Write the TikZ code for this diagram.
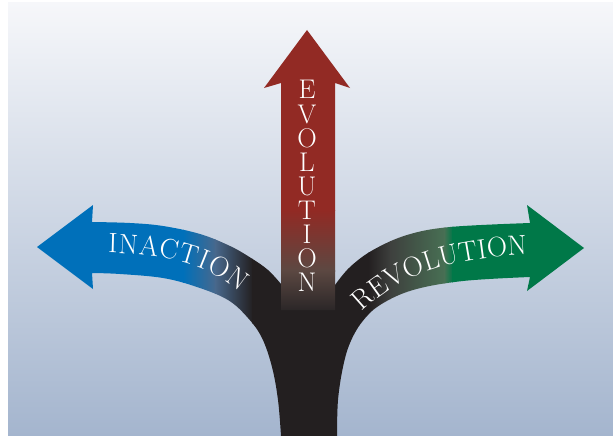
\documentclass[tikz,border=0pt]{standalone}
\usetikzlibrary{decorations.text}

\definecolor{bgtop}{RGB}{246,247,250}
\definecolor{bgbot}{RGB}{164,181,206}
\definecolor{inblue}{RGB}{0,112,186}
\definecolor{inmid}{RGB}{72,104,140}
\definecolor{revgreen}{RGB}{0,120,72}
\definecolor{revgray}{RGB}{62,64,62}
\definecolor{revmid}{RGB}{72,112,84}
\definecolor{evred}{RGB}{146,42,36}
\definecolor{evmid}{RGB}{92,72,66}
\definecolor{evend}{RGB}{42,38,39}
\definecolor{trunk}{RGB}{35,31,32}

\newcommand\arrowfont{\fontsize{28}{28}\selectfont}
\newcommand\leftbranch{(281,436) -- plot[smooth,tension=.6] coordinates {(281,436) (278,400) (272,367) (262,338) (248,318) (228,300) (197,287) (163,278) (120,274) (92,273)}
  -- (93,289) -- (37,247) -- (93,205) -- (92,222)
  -- plot[smooth,tension=.6] coordinates {(92,222) (130,223) (163,226) (200,234) (230,246) (251,258) (268,270) (281,284)}
  -- (281,310) -- (308,310) -- (308,436) -- cycle}
\newcommand\rightbranch{(337,436) -- plot[smooth,tension=.6] coordinates {(337,436) (338,400) (343,367) (350,343) (362,322) (380,305) (413,290) (463,281) (530,277)}
  -- (527,291) -- (584,248) -- (527,205) -- (530,223)
  -- plot[smooth,tension=.6] coordinates {(530,223) (450,227) (407,235) (373,250) (350,267) (335,285)}
  -- (335,310) -- (306,310) -- (306,436) -- cycle}

\begin{document}
\begin{tikzpicture}[x=1pt,y=-1pt,
    evletter/.style={anchor=base,inner sep=0pt,text=white,font=\fontsize{27}{27}\selectfont},
    bendtext/.style={decorate,decoration={text along path,text={|\arrowfont|#1},text align={fit to path},text color=white}}]
          \useasboundingbox (0,0) rectangle (613,436);
          \fill[white] (0,0) rectangle (613,436);
          \shade[top color=bgtop,bottom color=bgbot] (8,3) rectangle (613,436);
          % inaction
          \begin{scope}
            \clip \leftbranch;
            \fill[inblue] (0,150) rectangle (184,436);
            \shade[left color=inblue,right color=inmid] (183,150) rectangle (216,436);
            \shade[left color=inmid,right color=trunk] (215,150) rectangle (253,436);
            \fill[trunk] (252,150) rectangle (320,436);
          \end{scope}
          % revolution
          \begin{scope}
            \clip \rightbranch;
            \fill[trunk] (290,150) rectangle (369,436);
            \shade[left color=trunk,right color=revgray] (368,150) rectangle (391,436);
            \shade[left color=revgray,right color=revmid] (390,150) rectangle (445,436);
            \shade[left color=revmid,right color=revgreen] (444,150) rectangle (453,436);
            \fill[revgreen] (452,150) rectangle (600,436);
          \end{scope}
          % evolution
          \begin{scope}
            \clip (281,310) -- (281,83) -- (264,88) -- (307,30) -- (350,88) -- (335,83) -- (335,310) -- cycle;
            \fill[evred] (250,20) rectangle (360,211);
            \shade[top color=evred,bottom color=evmid] (250,210) rectangle (360,271);
            \shade[top color=evmid,bottom color=evend] (250,270) rectangle (360,311);
          \end{scope}
          \node[evletter] (ev1) at (307,99) {E};
          \node[evletter] (ev2) at (307,123) {V};
          \node[evletter] (ev3) at (307,147) {O};
          \node[evletter] (ev4) at (307,171) {L};
          \node[evletter] (ev5) at (307,195) {U};
          \node[evletter] (ev6) at (307,219) {T};
          \node[evletter] (ev7) at (307,243) {I};
          \node[evletter] (ev8) at (307,267) {O};
          \node[evletter] (ev9) at (307,291) {N};
          \path[bendtext=INACTION] (108,253) .. controls (160,254) and (205,262) .. (240,292);
          \path[bendtext=REVOLUTION] (362,312) .. controls (390,285) and (430,259) .. (524,255);
        \end{tikzpicture}
\end{document}
